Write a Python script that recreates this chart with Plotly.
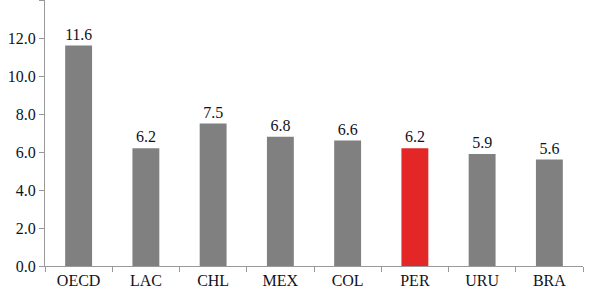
import plotly.graph_objects as go

categories = ["OECD", "LAC", "CHL", "MEX", "COL", "PER", "URU", "BRA"]
values = [11.6, 6.2, 7.5, 6.8, 6.6, 6.2, 5.9, 5.6]
labels = ["11.6", "6.2", "7.5", "6.8", "6.6", "6.2", "5.9", "5.6"]
colors = ["#808080" if c != "PER" else "#e32626" for c in categories]

font = dict(family="'Liberation Serif', 'DejaVu Serif', serif", size=16, color="#111122")

fig = go.Figure(go.Bar(
    x=categories, y=values, text=labels, textposition="outside",
    marker=dict(color=colors, line=dict(width=0)),
    textfont=font, cliponaxis=False, width=0.4, hoverinfo="skip",
))
fig.update_layout(
    width=589, height=293, margin=dict(l=45, r=6, t=0, b=27),
    plot_bgcolor="white", paper_bgcolor="white", showlegend=False,
    font=font,
)
fig.update_yaxes(range=[0, 14], dtick=2, tickformat=".1f", showgrid=False,
                 showline=True, linecolor="#999999", linewidth=1,
                 ticks="outside", ticklen=5, tickcolor="#999999", zeroline=False,
                 tickfont=font, automargin=False)
fig.update_xaxes(showline=True, linecolor="#999999", linewidth=1,
                 ticks="outside", ticklen=5, tickcolor="#999999",
                 tickson="boundaries", showgrid=False, tickfont=font,
                 automargin=False)
fig.write_html("out.html", config={"displayModeBar": False},
               post_script="document.body.style.margin='0';document.body.style.overflow='hidden';")
